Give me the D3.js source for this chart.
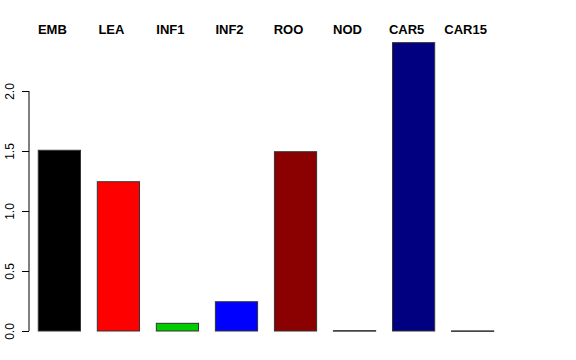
<!DOCTYPE html>
<html>
<head>
<meta charset="utf-8">
<script src="https://cdn.jsdelivr.net/npm/d3@7"></script>
<style>
  body { margin: 0; background: #fff; }
  svg { display: block; font-family: "Liberation Sans", Arial, sans-serif; }
</style>
</head>
<body>
<svg width="576" height="360"></svg>
<script>
const categories = ["EMB", "LEA", "INF1", "INF2", "ROO", "NOD", "CAR5", "CAR15"];
const values = [1.506, 1.244, 0.064, 0.244, 1.494, 0.003, 2.403, 0.001];
const colors = ["#000000", "#ff0000", "#00cd00", "#0000ff", "#8b0000", "#551a8b", "#000080", "#808080"];
const yTicks = [0, 0.5, 1, 1.5, 2];

const svg = d3.select("svg");

const xScale = d3.scaleBand()
  .domain(categories)
  .range([29, 503])
  .paddingInner(0.285)
  .paddingOuter(0.157);

const yScale = d3.scaleLinear()
  .domain([0, 2.5])
  .range([331, 31]);

// bars
svg.selectAll(".bar")
  .data(categories)
  .enter()
  .append("rect")
  .classed("bar", true)
  .attr("x", d => xScale(d))
  .attr("width", xScale.bandwidth())
  .attr("y", (d, i) => yScale(values[i]))
  .attr("height", (d, i) => Math.max(0.5, yScale(0) - yScale(values[i])))
  .attr("fill", (d, i) => colors[i])
  .attr("stroke", "#333")
  .attr("stroke-width", 1);

// labels on top, bold
svg.selectAll(".lab")
  .data(categories)
  .enter()
  .append("text")
  .attr("x", d => xScale(d) + xScale.bandwidth() / 2 - 7)
  .attr("y", 34)
  .attr("text-anchor", "middle")
  .attr("font-size", 13)
  .attr("font-weight", "bold")
  .text(d => d);

// y axis, R style
const yAxis = d3.axisLeft(yScale)
  .tickValues(yTicks)
  .tickFormat(d3.format(".1f"))
  .tickSize(7)
  .tickSizeOuter(0);

const ax = svg.append("g")
  .attr("transform", "translate(29,0)")
  .call(yAxis);

ax.select(".domain")
  .attr("d", `M0,${yScale(0)}V${yScale(2)}`)
  .attr("stroke", "#000");

ax.selectAll(".tick line").attr("stroke", "#000");

ax.selectAll(".tick text")
  .attr("font-size", 12)
  .attr("font-family", "Liberation Sans, Arial, sans-serif")
  .attr("fill", "#000")
  .attr("text-anchor", "middle")
  .attr("dy", null)
  .attr("x", null)
  .attr("transform", "translate(-15,0) rotate(-90)")
  .attr("dominant-baseline", "auto");
</script>
</body>
</html>
